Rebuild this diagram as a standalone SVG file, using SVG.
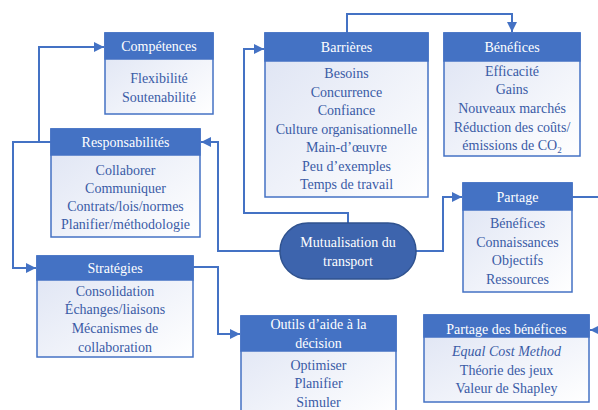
<svg xmlns="http://www.w3.org/2000/svg" width="598" height="410" viewBox="0 0 598 410">
<defs>
<linearGradient id="bg" x1="0" y1="0" x2="1" y2="1">
<stop offset="0" stop-color="#dde3f3"/>
<stop offset="1" stop-color="#ffffff"/>
</linearGradient>
<marker id="ah" viewBox="0 0 10 10" refX="10" refY="5" markerWidth="10" markerHeight="10" markerUnits="userSpaceOnUse" orient="auto">
<path d="M0,0 L10,5 L0,10 Z" fill="#4472c4"/>
</marker>
</defs>
<style>
.body{fill:url(#bg);stroke:#4472c4;stroke-width:1.5}
.head{fill:#4472c4;stroke:#4472c4;stroke-width:1.5}
.conn{fill:none;stroke:#4472c4;stroke-width:2}
text{font-family:'Liberation Serif','Times New Roman',serif;font-size:14px;text-anchor:middle}
.ht{fill:#ffffff}
.bt{fill:#3a5ba6}
</style>
<g id="connectors">
<polyline class="conn" points="52,142 39,142 39,47 104,47" marker-end="url(#ah)"/>
<polyline class="conn" points="52,142 13,142 13,268 36,268" marker-end="url(#ah)"/>
<polyline class="conn" points="280,251 218,251 218,142 201,142" marker-end="url(#ah)"/>
<polyline class="conn" points="193,267 218,267 218,334 240,334" marker-end="url(#ah)"/>
<polyline class="conn" points="348,223 348,213 244,213 244,49 264,49" marker-end="url(#ah)"/>
<polyline class="conn" points="347,33 347,14 512,14 512,32" marker-end="url(#ah)"/>
<polyline class="conn" points="416,251 443,251 443,197 462,197" marker-end="url(#ah)"/>
<polyline class="conn" points="572,197 598,197"/>
<polyline class="conn" points="598,330 590,330" marker-end="url(#ah)"/>
</g>
<g id="competences">
<rect class="body" x="105" y="33" width="108" height="81"/>
<rect class="head" x="105" y="33" width="108" height="26"/>
<text class="ht" x="159" y="51">Compétences</text>
<text class="bt" x="159" y="83">Flexibilité</text>
<text class="bt" x="159" y="102">Soutenabilité</text>
</g>
<g id="responsabilites">
<rect class="body" x="51" y="129" width="149" height="108"/>
<rect class="head" x="51" y="129" width="149" height="26"/>
<text class="ht" x="125.5" y="147">Responsabilités</text>
<text class="bt" x="125.5" y="175">Collaborer</text>
<text class="bt" x="125.5" y="193">Communiquer</text>
<text class="bt" x="125.5" y="211">Contrats/lois/normes</text>
<text class="bt" x="125.5" y="229">Planifier/méthodologie</text>
</g>
<g id="strategies">
<rect class="body" x="37" y="256" width="156" height="101"/>
<rect class="head" x="37" y="256" width="156" height="24"/>
<text class="ht" x="115" y="273">Stratégies</text>
<text class="bt" x="115" y="296">Consolidation</text>
<text class="bt" x="115" y="314">Échanges/liaisons</text>
<text class="bt" x="115" y="333">Mécanismes de</text>
<text class="bt" x="115" y="352">collaboration</text>
</g>
<g id="outils">
<rect class="body" x="241" y="316" width="155" height="100"/>
<rect class="head" x="241" y="316" width="155" height="35"/>
<text class="ht" x="318.5" y="329">Outils d’aide à la</text>
<text class="ht" x="318.5" y="348">décision</text>
<text class="bt" x="318.5" y="370">Optimiser</text>
<text class="bt" x="318.5" y="388">Planifier</text>
<text class="bt" x="318.5" y="407">Simuler</text>
</g>
<g id="barrieres">
<rect class="body" x="265" y="33" width="163" height="164"/>
<rect class="head" x="265" y="33" width="163" height="28"/>
<text class="ht" x="346.5" y="52">Barrières</text>
<text class="bt" x="346.5" y="78">Besoins</text>
<text class="bt" x="346.5" y="96.5">Concurrence</text>
<text class="bt" x="346.5" y="115">Confiance</text>
<text class="bt" x="346.5" y="133.5">Culture organisationnelle</text>
<text class="bt" x="346.5" y="152">Main-d’œuvre</text>
<text class="bt" x="346.5" y="170.5">Peu d’exemples</text>
<text class="bt" x="346.5" y="189">Temps de travail</text>
</g>
<g id="benefices">
<rect class="body" x="444" y="33" width="136" height="123"/>
<rect class="head" x="444" y="33" width="136" height="28"/>
<text class="ht" x="512" y="52">Bénéfices</text>
<text class="bt" x="512" y="76">Efficacité</text>
<text class="bt" x="512" y="94">Gains</text>
<text class="bt" x="512" y="113">Nouveaux marchés</text>
<text class="bt" x="512" y="132">Réduction des coûts/</text>
<text class="bt" x="512" y="150">émissions de CO<tspan font-size="9" dy="3">2</tspan></text>
</g>
<g id="mutualisation">
<rect x="280" y="223" width="136" height="56" rx="28" ry="28" fill="#3d64ad" stroke="#2f528f" stroke-width="1.5"/>
<text class="ht" x="348" y="247">Mutualisation du</text>
<text class="ht" x="348" y="266">transport</text>
</g>
<g id="partage">
<rect class="body" x="463" y="183" width="109" height="109"/>
<rect class="head" x="463" y="183" width="109" height="27"/>
<text class="ht" x="517.5" y="202">Partage</text>
<text class="bt" x="517.5" y="228">Bénéfices</text>
<text class="bt" x="517.5" y="247">Connaissances</text>
<text class="bt" x="517.5" y="265">Objectifs</text>
<text class="bt" x="517.5" y="284">Ressources</text>
</g>
<g id="partage-benefices">
<rect class="body" x="424" y="315" width="165" height="87"/>
<rect class="head" x="424" y="315" width="165" height="22"/>
<text class="ht" x="506.5" y="334">Partage des bénéfices</text>
<text class="bt" x="506.5" y="356" font-style="italic">Equal Cost Method</text>
<text class="bt" x="506.5" y="375">Théorie des jeux</text>
<text class="bt" x="506.5" y="393">Valeur de Shapley</text>
</g>
</svg>
